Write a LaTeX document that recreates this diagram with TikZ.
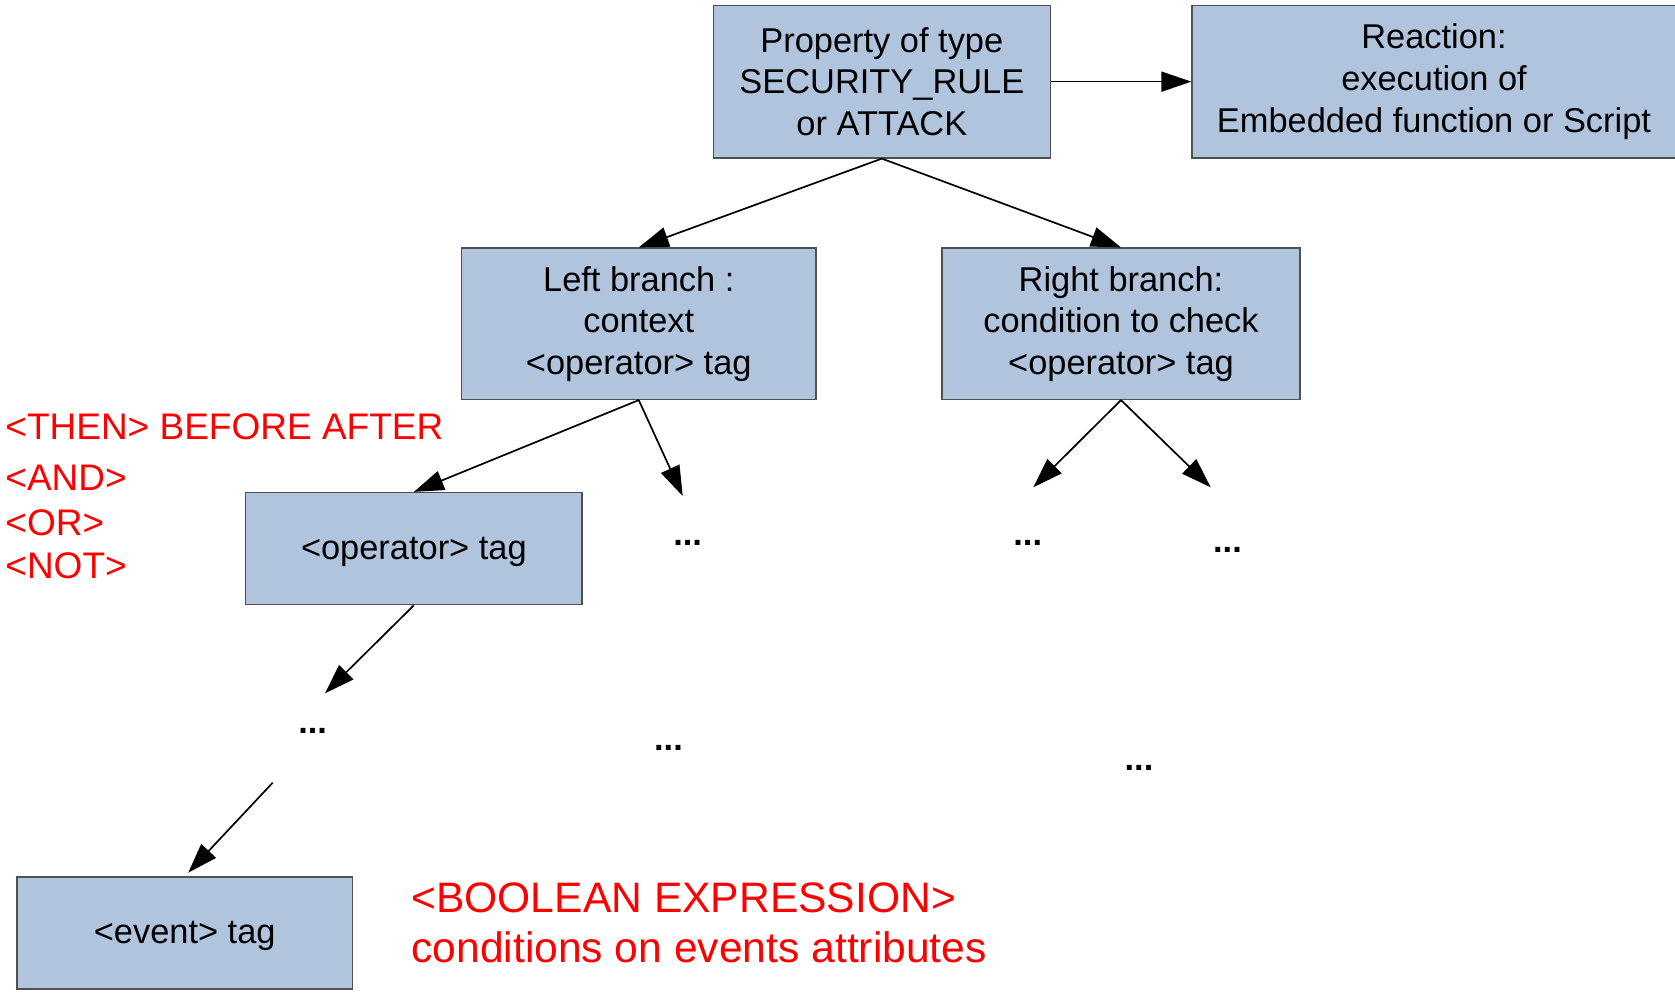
\documentclass[tikz,border=0pt]{standalone}
\usepackage{fontspec}
\setmainfont{Liberation Sans}
\usetikzlibrary{arrows.meta}

\definecolor{boxfill}{RGB}{176,196,222}
\definecolor{boxline}{RGB}{80,80,80}
\definecolor{notered}{RGB}{255,0,0}

\tikzset{
  tagbox/.style={draw=boxline, line width=0.6pt, fill=boxfill, align=center,
    inner sep=2pt, font=\fontsize{17.2}{20.8}\selectfont},
  onelinebox/.style={tagbox, text height=13pt, text depth=2.5pt},
  link/.style={line width=0.85pt, -{Triangle[length=15pt,width=10pt]}},
  more/.style={inner sep=0pt, font=\fontsize{17.2}{20.8}\selectfont\bfseries},
  opnote/.style={text=notered, inner sep=0pt, anchor=base west,
    font=\fontsize{18.5}{22}\selectfont},
  exprnote/.style={text=notered, inner sep=0pt, anchor=base west,
    font=\fontsize{21.3}{24.7}\selectfont},
}

\begin{document}
\begin{tikzpicture}[x=0.5pt, y=-0.5pt]
\useasboundingbox (0,0) rectangle (1675,994);

% rule tree
\node[tagbox, minimum width=168.25pt, minimum height=76.35pt] (prop) at (881.85,81.65)
  {Property of type\\SECURITY\_RULE\\or ATTACK};
\node[tagbox, minimum width=242pt, minimum height=76.35pt] (react) at (1434,81.65)
  {Reaction:\\execution of\\Embedded function or Script};
\node[tagbox, minimum width=177.25pt, minimum height=75.75pt] (lbranch) at (638.75,323.75)
  {Left branch :\\context\\<operator> tag};
\node[tagbox, minimum width=179pt, minimum height=75.75pt] (rbranch) at (1121,323.75)
  {Right branch:\\condition to check\\<operator> tag};
\node[onelinebox, minimum width=168.15pt, minimum height=56.1pt] (optag) at (413.85,548.6)
  {<operator> tag};
\node[onelinebox, minimum width=167.75pt, minimum height=56pt] (evtag) at (184.75,933)
  {<event> tag};

% elided subtrees
\node[more] (dotsA) at (687.7,542.8) {...};
\node[more] (dotsB) at (1027.7,542.8) {...};
\node[more] (dotsC) at (1227.5,550) {...};
\node[more] (dotsD) at (312.7,730.7) {...};
\node[more] (dotsE) at (668.5,748) {...};
\node[more] (dotsF) at (1139,768) {...};

% free ends of the open connectors
\coordinate (lfree) at (682.7,496);
\coordinate (rfreeA) at (1033.3,487.3);
\coordinate (rfreeB) at (1210.7,487.3);
\coordinate (opfree) at (325,693.3);
\coordinate (evfrom) at (272.7,782.7);

% connectors
\draw[link] (prop.east) -- (react.west);
\draw[link] (prop.south) -- (lbranch.north);
\draw[link] (prop.south) -- (rbranch.north);
\draw[link] (lbranch.south) -- (optag.north);
\draw[link] (lbranch.south) -- (lfree);
\draw[link] (rbranch.south) -- (rfreeA);
\draw[link] (rbranch.south) -- (rfreeB);
\draw[link] (optag.south) -- (opfree);
\draw[link, shorten >=2.5pt] (evfrom) -- (evtag.north);

% operator keywords
\node[opnote] (opthen) at (5,439.3) {<THEN> BEFORE AFTER};
\node[opnote] (opand) at (5,490) {<AND>};
\node[opnote] (opor) at (5,535) {<OR>};
\node[opnote] (opnot) at (5,578.3) {<NOT>};

% boolean expression note
\node[exprnote] (boolexpr) at (411,912.3) {<BOOLEAN EXPRESSION>};
\node[exprnote] (boolcond) at (411,962.5) {conditions on events attributes};
\end{tikzpicture}
\end{document}
